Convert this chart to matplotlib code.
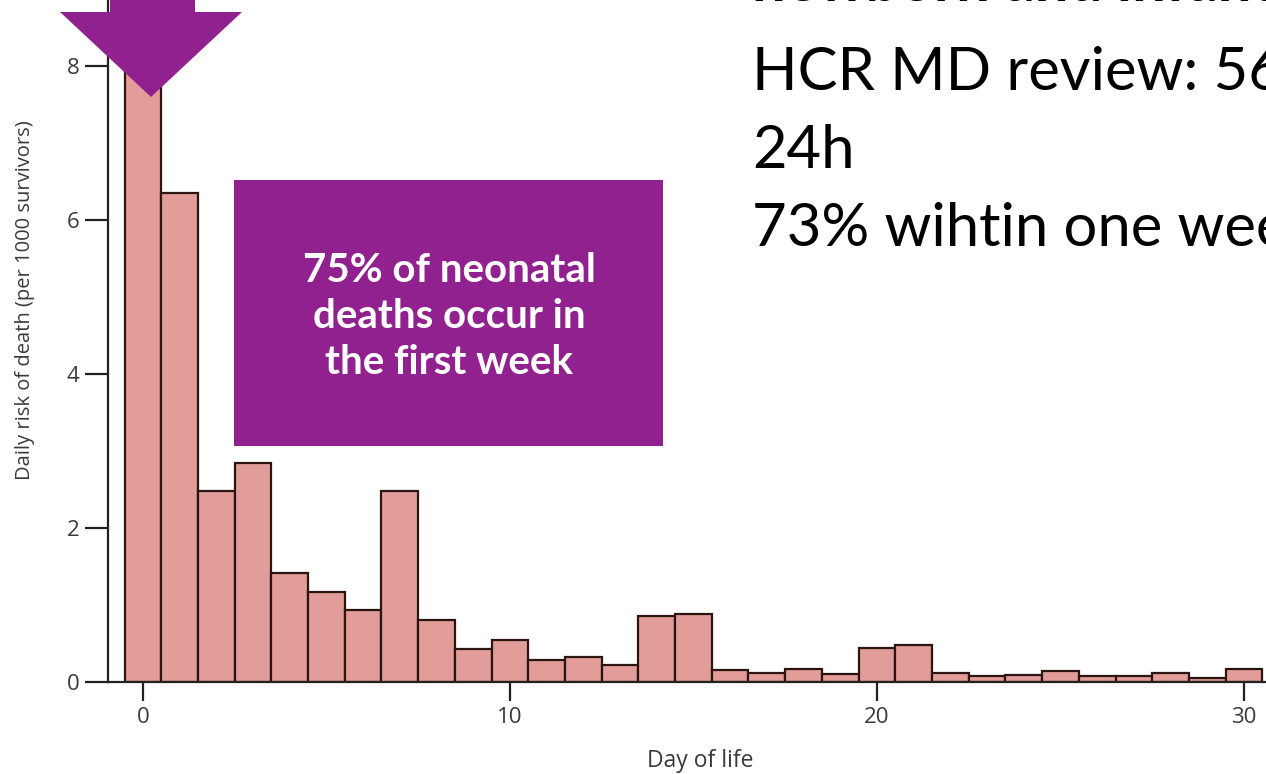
import numpy as np
import matplotlib.pyplot as plt
from matplotlib.patches import Polygon, Rectangle

# Data (day 0 bar runs off the top of the picture)
days = np.arange(0, 31)
daily_risk = [9.6, 6.35, 2.48, 2.84, 1.42, 1.17, 0.94, 2.48, 0.81, 0.43,
              0.55, 0.29, 0.33, 0.22, 0.86, 0.88, 0.16, 0.12, 0.17, 0.10,
              0.44, 0.48, 0.12, 0.08, 0.09, 0.14, 0.08, 0.08, 0.12, 0.05,
              0.17]
x_ticks = [0, 10, 20, 30]
y_ticks = [0, 2, 4, 6, 8]

box_text = "75% of neonatal\ndeaths occur in\nthe first week"
heading_text = "newborn and infant"
side_lines = ["HCR MD review: 56% within", "24h", "73% wihtin one week"]

purple = "#922190"
bar_fill = "#e29d98"
ink = "#2a1512"

plt.rcParams["font.family"] = ["Open Sans", "DejaVu Sans"]

W, H = 1266, 774
fig = plt.figure(figsize=(W / 100, H / 100), dpi=100)
fig.patch.set_facecolor("white")

def fx(px):
    return px / W

def fy(py):
    return 1 - py / H

ax = fig.add_axes([fx(108), fy(682), fx(W) - fx(108), fy(0) - fy(682)])
ax.bar(days, daily_risk, width=1.0, color=bar_fill, edgecolor=ink, linewidth=1.6)
ax.set_xlim(-0.95, 30.6)
ax.set_ylim(0, 682 / 77)
ax.set_xticks(x_ticks)
ax.set_yticks(y_ticks)
ax.spines[["top", "right"]].set_visible(False)
for s in ["left", "bottom"]:
    ax.spines[s].set_linewidth(1.6)
    ax.spines[s].set_color("#222222")
ax.tick_params(axis="y", length=16.5, width=1.6, pad=4, labelsize=16,
               colors="#222222", labelcolor="#3a3a3a")
ax.tick_params(axis="x", length=14, width=1.6, pad=4, labelsize=16,
               colors="#222222", labelcolor="#3a3a3a")

fig.text(fx(25), fy(300), "Daily risk of death (per 1000 survivors)", rotation=90,
         ha="center", va="center", fontsize=14.5, color="#3a3a3a")
fig.text(fx(700), fy(761), "Day of life", ha="center", va="center",
         fontsize=16.5, color="#3a3a3a")

# purple box with text
fig.add_artist(Rectangle((fx(234), fy(446)), fx(663) - fx(234), fy(180) - fy(446),
                         transform=fig.transFigure, facecolor=purple, edgecolor="none"))
fig.text(fx(449), fy(317), box_text, ha="center", va="center", color="white",
         fontsize=29, fontweight="bold", family="Lato", linespacing=1.3)

# purple down arrow
arrow_px = [(110, -5), (195, -5), (195, 12), (242, 12), (151, 97), (60, 12), (110, 12)]
fig.add_artist(Polygon([(fx(a), fy(b)) for a, b in arrow_px], closed=True,
                       transform=fig.transFigure, facecolor=purple, edgecolor="none"))

# slide text on the right
fig.text(fx(752), fy(1), heading_text, ha="left", va="baseline", fontsize=43,
         fontweight="bold", family="Lato", color="black")
for i, line in enumerate(side_lines):
    fig.text(fx(752), fy(90 + 78 * i), line, ha="left", va="baseline",
             fontsize=43, family="Lato", color="black")

fig.savefig("out.png", dpi=100)
